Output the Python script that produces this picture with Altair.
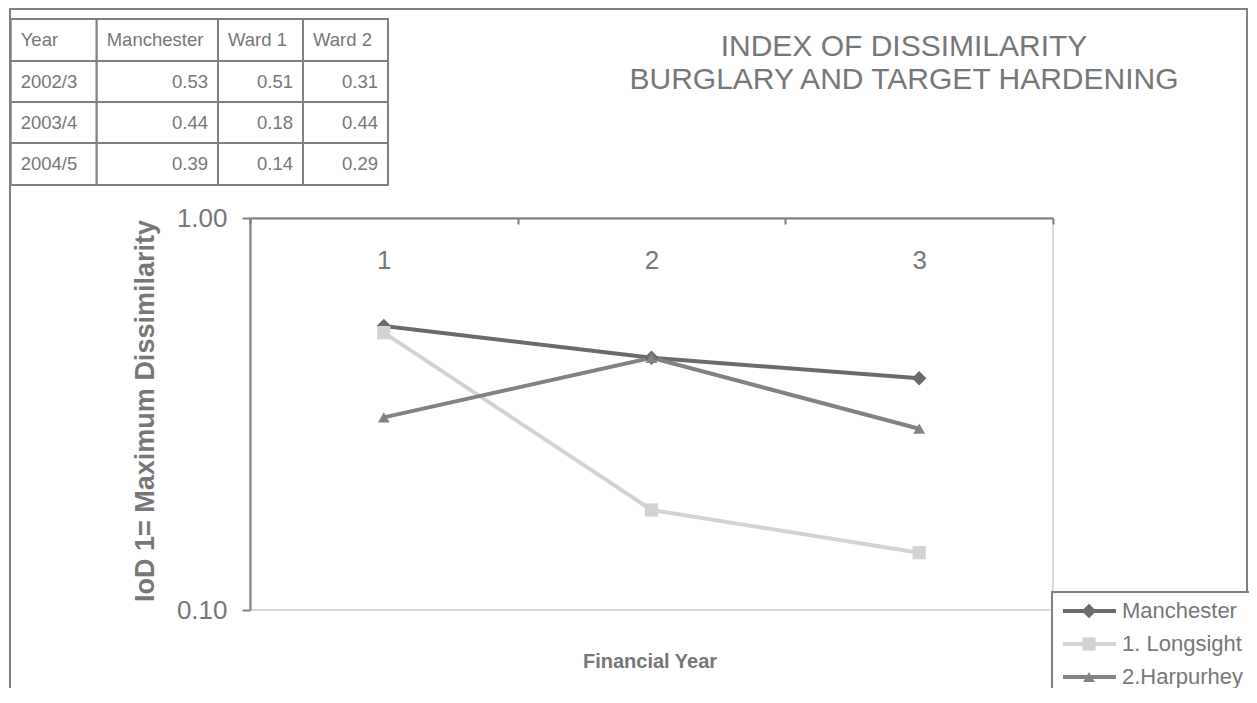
import altair as alt
import pandas as pd

# ---------------- data ----------------
periods = ["1", "2", "3"]
years = ["2002/3", "2003/4", "2004/5"]
table_headers = ["Year", "Manchester", "Ward 1", "Ward 2"]
series_names = ["Manchester", "1. Longsight", "2.Harpurhey"]
manchester = [0.53, 0.44, 0.39]
longsight = [0.51, 0.18, 0.14]
harpurhey = [0.31, 0.44, 0.29]
y_ticks = [0.1, 1.0]
title_lines = ["INDEX OF DISSIMILARITY", "BURGLARY AND TARGET HARDENING"]
y_title = "IoD 1= Maximum Dissimilarity"
x_title = "Financial Year"

# ---------------- style ----------------
colors = ["#6b6b6b", "#d3d3d3", "#828282"]
shapes = ["diamond", "square", "triangle-up"]
sizes = [210, 140, 240]
TEXT = "#777777"
AXIS = "#808080"
FONT = "Liberation Sans"
W, H = 803, 392

series_values = [manchester, longsight, harpurhey]
df = pd.DataFrame(
    [{"period": p, "series": s, "value": v}
     for s, vals in zip(series_names, series_values)
     for p, v in zip(periods, vals)]
)

color_scale = alt.Scale(domain=series_names, range=colors)
shape_scale = alt.Scale(domain=series_names, range=shapes)
size_scale = alt.Scale(domain=series_names, range=sizes)

x_enc = alt.X(
    "period:N",
    sort=periods,
    scale=alt.Scale(type="band", domain=periods, paddingInner=0, paddingOuter=0),
    axis=alt.Axis(
        orient="bottom", offset=-H, title=None, labelAngle=0, tickBand="extent",
        tickSize=6, tickWidth=2, tickColor=AXIS, domainColor=AXIS, domainWidth=2,
        labelFontSize=26, labelColor=TEXT, labelFont=FONT, labelPadding=44,
        labelBaseline="alphabetic",
    ),
)
y_enc = alt.Y(
    "value:Q",
    scale=alt.Scale(type="log", domain=[0.1, 1.0], nice=False),
    axis=alt.Axis(
        values=y_ticks, format=".2f", title=None, grid=False, tickSize=8, tickWidth=2,
        tickColor=AXIS, domainColor=AXIS, domainWidth=2, labelFontSize=26,
        labelColor=TEXT, labelFont=FONT, labelPadding=15,
    ),
)

base = alt.Chart(df)
lines = base.mark_line(strokeWidth=4).encode(
    x=x_enc, y=y_enc,
    color=alt.Color("series:N", scale=color_scale, legend=None),
    detail="series:N",
)
points = base.mark_point(filled=True, opacity=1).encode(
    x=x_enc, y=y_enc,
    color=alt.Color("series:N", scale=color_scale, legend=None),
    shape=alt.Shape("series:N", scale=shape_scale, legend=None),
    size=alt.Size("series:N", scale=size_scale, legend=None),
)
main = alt.layer(lines, points)

# ---------------- titles ----------------
title_df = pd.DataFrame({"line": title_lines, "i": [0, 1]})
title = alt.Chart(title_df).mark_text(
    font=FONT, fontSize=30, color=TEXT, align="center", baseline="middle"
).encode(
    x=alt.value(654),
    y=alt.Y("i:Q", scale=alt.Scale(domain=[0, 1], range=[-171, -138], nice=False, zero=False), axis=None),
    text="line:N",
)

ytitle = alt.Chart(pd.DataFrame({"t": [y_title]})).mark_text(
    font=FONT, fontSize=27, fontWeight="bold", color=TEXT, angle=270,
    align="center", baseline="middle",
).encode(x=alt.value(-104), y=alt.value(193), text="t:N")

xtitle = alt.Chart(pd.DataFrame({"t": [x_title]})).mark_text(
    font=FONT, fontSize=20, fontWeight="bold", color=TEXT,
    align="center", baseline="middle",
).encode(x=alt.value(400), y=alt.value(444), text="t:N")

# ---------------- table ----------------
col_edges = [-239.3, -153.3, -32, 53, 138]
row_edges = [-199, -157, -116, -75, -33]
cells = []
for r in range(4):
    for c in range(4):
        if r == 0:
            txt, num = table_headers[c], False
        elif c == 0:
            txt, num = years[r - 1], False
        else:
            txt, num = f"{series_values[c - 1][r - 1]:.2f}", True
        cells.append({"r0": r, "r1": r + 1, "rm": r + 0.5, "c0": c, "c1": c + 1,
                      "txt": txt, "num": num})
cells_df = pd.DataFrame(cells)

tx = alt.Scale(type="linear", domain=[0, 1, 2, 3, 4], range=col_edges, nice=False, zero=False)
ty = alt.Scale(type="linear", domain=[0, 1, 2, 3, 4], range=row_edges, nice=False, zero=False)

tbase = alt.Chart(cells_df)
trect = tbase.mark_rect(fill="white", stroke=AXIS, strokeWidth=2).encode(
    x=alt.X("c0:Q", scale=tx, axis=None), x2="c1:Q",
    y=alt.Y("r0:Q", scale=ty, axis=None), y2="r1:Q",
)
tleft = tbase.transform_filter("!datum.num").mark_text(
    font=FONT, fontSize=18.5, color=TEXT, align="left", baseline="middle", dx=10
).encode(
    x=alt.X("c0:Q", scale=tx, axis=None),
    y=alt.Y("rm:Q", scale=ty, axis=None), text="txt:N",
)
tright = tbase.transform_filter("datum.num").mark_text(
    font=FONT, fontSize=18.5, color=TEXT, align="right", baseline="middle", dx=-10
).encode(
    x=alt.X("c1:Q", scale=tx, axis=None),
    y=alt.Y("rm:Q", scale=ty, axis=None), text="txt:N",
)
table = alt.layer(trect, tleft, tright)

# ---------------- legend ----------------
leg_df = pd.DataFrame({"series": series_names, "k": [0, 1, 2]})
ly = alt.Scale(type="linear", domain=[0, 2], range=[393, 459], nice=False, zero=False)
lbase = alt.Chart(leg_df)
lbox = alt.Chart(pd.DataFrame({"a": [0]})).mark_rect(
    fill="white", stroke=AXIS, strokeWidth=2
).encode(x=alt.value(802), x2=alt.value(1020), y=alt.value(374), y2=alt.value(520))
lrule = lbase.mark_rule(strokeWidth=4).encode(
    x=alt.value(813), x2=alt.value(866),
    y=alt.Y("k:Q", scale=ly, axis=None),
    color=alt.Color("series:N", scale=color_scale, legend=None),
)
lpt = lbase.mark_point(filled=True, opacity=1).encode(
    x=alt.value(839),
    y=alt.Y("k:Q", scale=ly, axis=None),
    color=alt.Color("series:N", scale=color_scale, legend=None),
    shape=alt.Shape("series:N", scale=shape_scale, legend=None),
    size=alt.Size("series:N", scale=size_scale, legend=None),
)
ltxt = lbase.mark_text(
    font=FONT, fontSize=22, color=TEXT, align="left", baseline="middle"
).encode(x=alt.value(872), y=alt.Y("k:Q", scale=ly, axis=None), text="series:N")
legend = alt.layer(lrule, lpt, ltxt)

# ---------------- frame ----------------
one = pd.DataFrame({"a": [0]})
frame_top = alt.Chart(one).mark_rule(color=AXIS, strokeWidth=2).encode(
    x=alt.value(-240), x2=alt.value(998), y=alt.value(-209))
frame_left = alt.Chart(one).mark_rule(color=AXIS, strokeWidth=2).encode(
    x=alt.value(-240), y=alt.value(-210), y2=alt.value(480))
frame_right = alt.Chart(one).mark_rule(color=AXIS, strokeWidth=2).encode(
    x=alt.value(997), y=alt.value(-210), y2=alt.value(480))

chart = alt.layer(
    frame_top, frame_left, frame_right, table, title, ytitle, xtitle, main, lbox, legend
).resolve_scale(
    x="independent", y="independent", color="independent",
    shape="independent", size="independent",
).properties(
    width=W, height=H,
    autosize=alt.AutoSizeParams(type="none"),
    padding={"left": 242, "top": 210, "right": 196, "bottom": 78},
).configure_view(stroke="#d9d9d9", strokeWidth=2)

chart.save("out.html", embed_options={"renderer": "svg", "actions": False})
